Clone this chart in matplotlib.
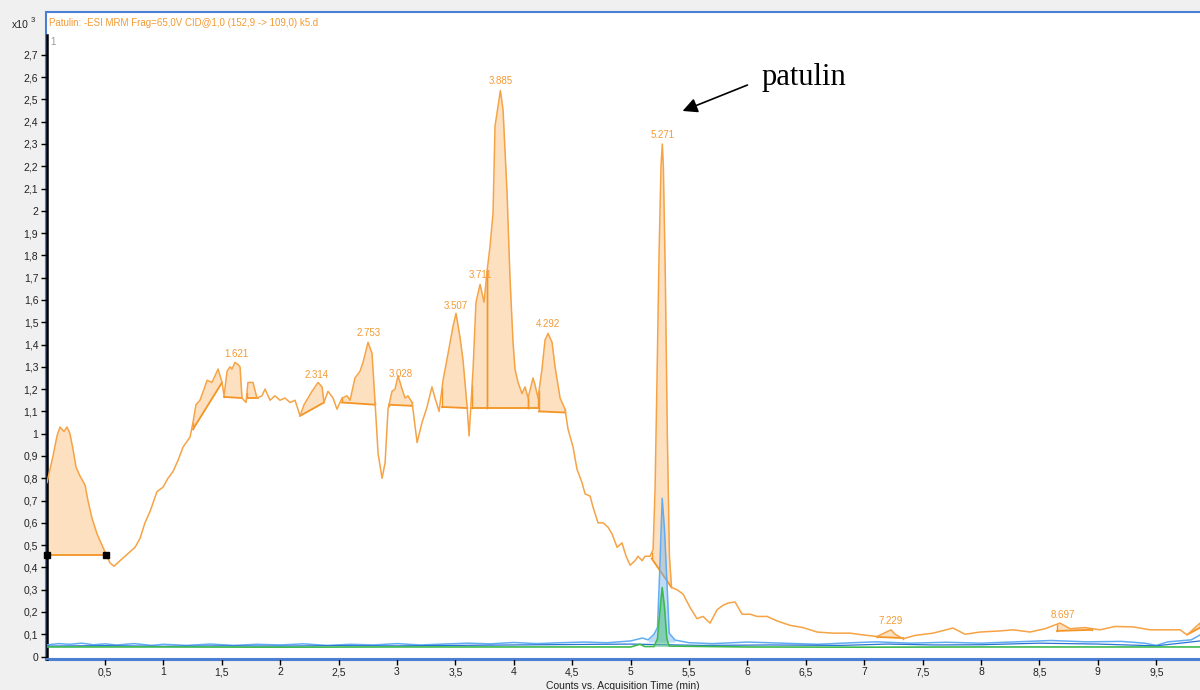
import numpy as np
import matplotlib.pyplot as plt
from matplotlib.patches import Rectangle

plt.rcParams['font.family'] = ['Liberation Sans', 'DejaVu Sans']

# orange MRM trace (152,9 -> 109,0), time in min, counts x10^3
t_or = [0.003, 0.029, 0.055, 0.089, 0.115, 0.149, 0.175, 0.200, 0.226, 0.252,
        0.286, 0.329, 0.354, 0.389, 0.432, 0.474, 0.509, 0.543, 0.577, 0.628,
        0.671, 0.714, 0.757, 0.800, 0.842, 0.885, 0.945, 0.997, 1.039, 1.082,
        1.125, 1.168, 1.228, 1.253, 1.279, 1.313, 1.348, 1.374, 1.416, 1.451,
        1.468, 1.502, 1.519, 1.545, 1.570, 1.587, 1.613, 1.639, 1.656, 1.673,
        1.707, 1.724, 1.767, 1.801, 1.844, 1.870, 1.913, 1.955, 1.998, 2.041,
        2.084, 2.127, 2.170, 2.204, 2.238, 2.272, 2.298, 2.324, 2.358, 2.375,
        2.409, 2.452, 2.486, 2.529, 2.572, 2.598, 2.640, 2.683, 2.709, 2.752,
        2.786, 2.812, 2.838, 2.872, 2.898, 2.923, 2.957, 2.983, 3.009, 3.043,
        3.069, 3.094, 3.129, 3.155, 3.172, 3.214, 3.257, 3.299, 3.325, 3.360,
        3.394, 3.437, 3.479, 3.505, 3.540, 3.565, 3.600, 3.617, 3.651, 3.676,
        3.711, 3.745, 3.771, 3.796, 3.822, 3.839, 3.885, 3.908, 3.942, 3.967,
        3.993, 4.010, 4.036, 4.070, 4.096, 4.122, 4.164, 4.181, 4.207, 4.241,
        4.267, 4.293, 4.327, 4.353, 4.396, 4.438, 4.464, 4.507, 4.541, 4.584,
        4.610, 4.653, 4.678, 4.721, 4.764, 4.807, 4.841, 4.884, 4.926, 4.961,
        4.995, 5.038, 5.063, 5.098, 5.123, 5.166, 5.192, 5.209, 5.226, 5.243,
        5.260, 5.271, 5.280, 5.297, 5.314, 5.332, 5.350, 5.397, 5.449, 5.509,
        5.568, 5.620, 5.680, 5.740, 5.791, 5.834, 5.894, 5.954, 6.022, 6.082,
        6.168, 6.253, 6.365, 6.476, 6.596, 6.733, 6.878, 6.990, 7.110, 7.229,
        7.264, 7.333, 7.435, 7.589, 7.760, 7.863, 7.991, 8.163, 8.274, 8.419,
        8.548, 8.676, 8.762, 8.890, 9.019, 9.147, 9.301, 9.447, 9.593, 9.704,
        9.764, 9.832, 9.875]
y_or = [0.78, 0.84, 0.90, 0.99, 1.03, 1.01, 1.03, 1.00, 0.93, 0.85,
        0.81, 0.77, 0.70, 0.62, 0.55, 0.50, 0.46, 0.42, 0.405, 0.43,
        0.45, 0.47, 0.49, 0.53, 0.60, 0.65, 0.74, 0.76, 0.80, 0.83,
        0.88, 0.94, 0.985, 1.05, 1.13, 1.15, 1.20, 1.24, 1.23, 1.27,
        1.29, 1.23, 1.17, 1.28, 1.30, 1.29, 1.32, 1.31, 1.30, 1.16,
        1.14, 1.23, 1.23, 1.16, 1.17, 1.20, 1.15, 1.17, 1.15, 1.16,
        1.14, 1.15, 1.08, 1.13, 1.16, 1.19, 1.21, 1.23, 1.21, 1.14,
        1.19, 1.16, 1.11, 1.16, 1.17, 1.15, 1.25, 1.28, 1.32, 1.41,
        1.36, 1.14, 0.91, 0.80, 0.87, 1.11, 1.19, 1.20, 1.26, 1.20,
        1.16, 1.17, 1.14, 1.03, 0.96, 1.05, 1.12, 1.21, 1.16, 1.10,
        1.24, 1.36, 1.48, 1.54, 1.43, 1.33, 1.12, 0.99, 1.29, 1.59,
        1.67, 1.59, 1.73, 1.84, 1.99, 2.38, 2.54, 2.45, 2.08, 1.70,
        1.41, 1.29, 1.23, 1.18, 1.21, 1.16, 1.25, 1.22, 1.16, 1.29,
        1.42, 1.45, 1.41, 1.30, 1.16, 1.11, 1.02, 0.94, 0.84, 0.78,
        0.73, 0.72, 0.67, 0.60, 0.60, 0.58, 0.55, 0.49, 0.51, 0.45,
        0.41, 0.43, 0.45, 0.43, 0.45, 0.45, 0.48, 0.75, 1.25, 1.80,
        2.20, 2.30, 2.20, 1.70, 1.00, 0.45, 0.31, 0.30, 0.28, 0.22,
        0.17, 0.18, 0.15, 0.21, 0.23, 0.24, 0.245, 0.19, 0.19, 0.18,
        0.18, 0.16, 0.14, 0.13, 0.11, 0.105, 0.105, 0.097, 0.09, 0.12,
        0.10, 0.08, 0.095, 0.105, 0.128, 0.10, 0.11, 0.115, 0.12, 0.11,
        0.125, 0.15, 0.125, 0.13, 0.12, 0.135, 0.133, 0.12, 0.12, 0.12,
        0.097, 0.13, 0.15]

# blue qualifier trace
t_bl = [0.0, 0.1, 0.2, 0.3, 0.4, 0.5, 0.6, 0.75, 0.9, 1.0, 1.2, 1.4, 1.6, 1.8,
        2.0, 2.2, 2.4, 2.6, 2.8, 3.0, 3.2, 3.4, 3.6, 3.8, 4.0, 4.2, 4.4, 4.6,
        4.8, 5.0, 5.1, 5.15, 5.2, 5.23, 5.25, 5.27, 5.29, 5.31, 5.33, 5.38,
        5.5, 5.7, 6.0, 6.3, 6.6, 6.9, 7.1, 7.4, 7.7, 8.0, 8.3, 8.6, 8.9, 9.2,
        9.4, 9.5, 9.6, 9.8, 9.875]
y_bl = [0.052, 0.058, 0.055, 0.060, 0.053, 0.057, 0.052, 0.058, 0.050, 0.055,
        0.050, 0.056, 0.050, 0.055, 0.052, 0.057, 0.050, 0.055, 0.052, 0.058,
        0.052, 0.056, 0.060, 0.057, 0.063, 0.058, 0.062, 0.065, 0.062, 0.070,
        0.083, 0.075, 0.10, 0.13, 0.40, 0.71, 0.57, 0.34, 0.105, 0.074,
        0.062, 0.058, 0.065, 0.060, 0.055, 0.062, 0.066, 0.060, 0.064, 0.060,
        0.066, 0.072, 0.066, 0.068, 0.060, 0.050, 0.066, 0.075, 0.097]

# darker blue trace
t_db = [0.0, 0.5, 1.0, 1.5, 2.0, 2.5, 3.0, 3.5, 4.0, 4.5, 5.0, 5.6, 6.2,
        6.8, 7.2, 7.6, 8.0, 8.5, 9.0, 9.5, 9.875]
y_db = [0.047, 0.049, 0.046, 0.048, 0.047, 0.049, 0.048, 0.050, 0.052, 0.054,
        0.056, 0.050, 0.052, 0.050, 0.056, 0.052, 0.053, 0.060, 0.056, 0.048,
        0.070]

# green trace
t_gr = [0.0, 1.0, 2.0, 3.0, 4.0, 5.0, 5.08, 5.12, 5.2, 5.23, 5.25, 5.27,
        5.29, 5.31, 5.33, 6.0, 7.0, 8.0, 9.0, 9.875]
y_gr = [0.043, 0.043, 0.042, 0.043, 0.043, 0.043, 0.055, 0.045, 0.045, 0.08,
        0.20, 0.31, 0.22, 0.08, 0.047, 0.043, 0.042, 0.043, 0.043, 0.043]

# integrated peaks: start, end, baseline at start, baseline at end, label
pk_start = [0.003, 1.253, 1.519, 1.715, 2.170, 2.529, 2.930, 3.386, 3.643,
            3.771, 4.122, 4.215, 5.180, 7.110, 8.650, 9.770]
pk_end = [0.509, 1.502, 1.673, 1.810, 2.375, 2.812, 3.129, 3.600, 3.771,
          4.122, 4.207, 4.438, 5.350, 7.333, 8.950, 9.875]
pk_b0 = [0.456, 1.02, 1.165, 1.16, 1.08, 1.14, 1.13, 1.12, 1.115,
         1.115, 1.115, 1.10, 0.44, 0.088, 0.115, 0.10]
pk_b1 = [0.456, 1.23, 1.16, 1.16, 1.14, 1.13, 1.125, 1.115, 1.115,
         1.115, 1.115, 1.095, 0.31, 0.083, 0.12, 0.13]
pk_label = ['', '', '1.621', '', '2.314', '2.753', '3.028', '3.507', '3.711',
            '3.885', '', '4.292', '5.271', '7.229', '8.697', '']

c_line = '#f6a345'
c_fill = '#fde0c0'
c_base = '#f39526'

fig = plt.figure(figsize=(12, 6.9), dpi=100, facecolor='#f0f0f0')
W, H = 1200, 690

# white chart panel with blue frame
fig.patches.append(Rectangle((46 / W, 1 - 660 / H), 1160 / W, 648 / H,
                             transform=fig.transFigure, facecolor='white',
                             edgecolor='#4a7fd4', linewidth=1.5, zorder=-5))

ax = fig.add_axes([46.6 / W, 1 - 659 / H, 1156.4 / W, 624 / H])
ax.set_facecolor('none')
ax.set_xlim(0, 9.9)
ax.set_ylim(-0.011, 2.789)

t_or = np.array(t_or)
y_or = np.array(y_or)

for t0, t1, b0, b1, lab in zip(pk_start, pk_end, pk_b0, pk_b1, pk_label):
    inside = (t_or > t0) & (t_or < t1)
    tt = np.concatenate(([t0], t_or[inside], [t1]))
    yy = np.interp(tt, t_or, y_or)
    bb = np.interp(tt, [t0, t1], [b0, b1])
    ax.fill_between(tt, bb, yy, color=c_fill, lw=0, zorder=1)
    ax.plot([t0, t1], [b0, b1], color=c_base, lw=1.3, zorder=2)
    ax.plot([t0, t0], [b0, yy[0]], color=c_base, lw=1.0, zorder=2)
    ax.plot([t1, t1], [b1, yy[-1]], color=c_base, lw=1.0, zorder=2)
    if lab:
        tp = float(lab)
        ax.annotate(lab, (tp, np.interp(tp, t_or, y_or)), xytext=(0, 3),
                    textcoords='offset points', ha='center', va='bottom',
                    fontsize=7, color='#f39a34', zorder=5)

ax.plot(t_or, y_or, color=c_line, lw=1.1, zorder=3)
ax.plot([pk_start[0], pk_end[0]], [pk_b0[0], pk_b1[0]], 's', color='black',
        ms=5, zorder=6, clip_on=False)

# blue peak fill
t_bl = np.array(t_bl)
y_bl = np.array(y_bl)
m = (t_bl >= 5.14) & (t_bl <= 5.38)
ax.fill_between(t_bl[m], 0.065, y_bl[m], color='#6fb2ee', alpha=0.45, lw=0, zorder=4)
ax.plot(t_bl, y_bl, color='#62adf2', lw=1.1, zorder=4)
ax.plot(t_db, y_db, color='#2a73d2', lw=0.9, zorder=4)

t_gr = np.array(t_gr)
y_gr = np.array(y_gr)
m = (t_gr >= 5.2) & (t_gr <= 5.33)
ax.fill_between(t_gr[m], 0.045, y_gr[m], color='#5cc48f', alpha=0.6, lw=0, zorder=4)
ax.plot(t_gr, y_gr, color='#3dbb4f', lw=1.2, zorder=4)

# axes styling
for s in ['top', 'right']:
    ax.spines[s].set_visible(False)
ax.spines['left'].set_color('black')
ax.spines['left'].set_linewidth(1.8)
ax.spines['bottom'].set_color('#4a7fd4')
ax.spines['bottom'].set_linewidth(1.5)

yt = np.round(np.arange(0, 2.71, 0.1), 1)
ax.set_yticks(yt)
ax.set_yticklabels([('%g' % v).replace('.', ',') for v in yt])
xt = np.arange(0.5, 9.6, 0.5)
ax.set_xticks(xt)
ax.set_xticklabels([('%g' % v).replace('.', ',') for v in xt])
ax.tick_params(direction='out', length=4, width=1, labelsize=7.5,
               colors='black', labelcolor='#222222', pad=2)

fig.text(623 / W, 1 - 686 / H, 'Counts vs. Acquisition Time (min)',
         ha='center', va='center', fontsize=7.5, color='#222222')
fig.text(12 / W, 1 - 25 / H, 'x10', ha='left', va='center', fontsize=7.5,
         color='#222222')
fig.text(30.5 / W, 1 - 21 / H, '3', ha='left', va='center', fontsize=5.5,
         color='#222222')
fig.text(49 / W, 1 - 23 / H,
         'Patulin: -ESI MRM Frag=65,0V CID@1,0 (152,9 -> 109,0) k5.d',
         ha='left', va='center', fontsize=7, color='#f39a34')
fig.text(50 / W, 1 - 42 / H, '1', ha='left', va='center', fontsize=7,
         color='#999999')

# arrow pointing at the patulin peak
fig.text(762 / W, 1 - 78 / H, 'patulin', ha='left', va='center',
         fontsize=22, family='Liberation Serif', color='black')
ax.annotate('', xy=(680 / W, 1 - 112 / H), xycoords='figure fraction',
            xytext=(750 / W, 1 - 84 / H), textcoords='figure fraction',
            arrowprops=dict(arrowstyle='-|>', color='black', lw=1.2,
                            mutation_scale=22))

fig.savefig('out.png', dpi=100, facecolor=fig.get_facecolor())
